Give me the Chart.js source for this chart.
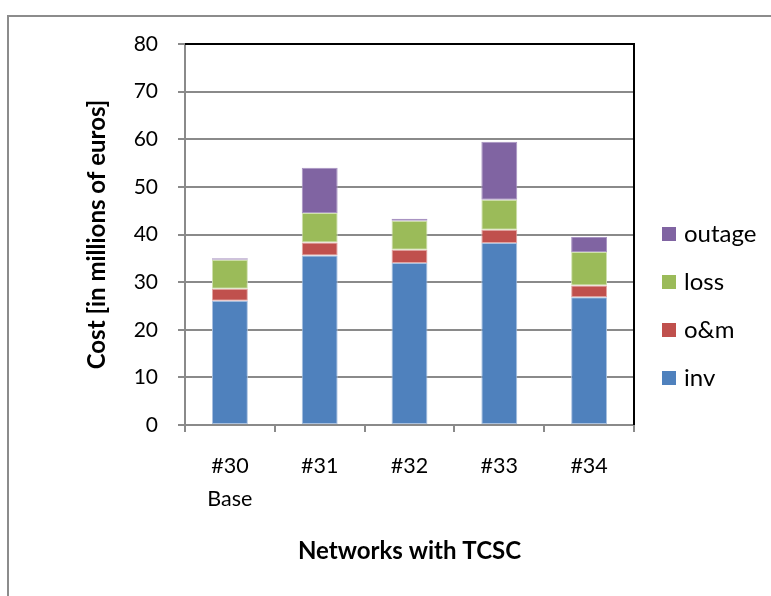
<!DOCTYPE html>
<html>
<head>
<meta charset="utf-8">
<script src="https://cdn.jsdelivr.net/npm/chart.js@4.4.1/dist/chart.umd.min.js"></script>
<style>
  html, body { margin: 0; padding: 0; background: #ffffff; }
  #wrap { position: relative; width: 771px; height: 596px; }
  #frame { position: absolute; left: 7px; top: 15px; right: -4px; bottom: -4px;
           border-left: 2px solid #8c8c8c; border-top: 2px solid #8c8c8c; pointer-events: none; }
  canvas { position: absolute; left: 0; top: 0; }
</style>
</head>
<body>
<div id="wrap">
  <canvas id="chart" width="771" height="596"></canvas>
  <div id="frame"></div>
</div>
<script>
// Networks compared
const categories = [['#30', 'Base'], '#31', '#32', '#33', '#34'];

// Cost components, in millions of euros
const inv    = [26.1, 35.6, 34.0, 38.2, 26.8];
const om     = [2.5, 2.7, 2.8, 2.8, 2.5];
const loss   = [6.1, 6.2, 6.1, 6.3, 7.0];
const outage = [0.3, 9.5, 0.4, 12.2, 3.2];

const yTicks = [0, 10, 20, 30, 40, 50, 60, 70, 80];

const FONT = 'Lato, "Liberation Sans", sans-serif';
const GRID = '#8a8a8a';

// Legend drawn at the right, top entry is the last stacked series
const sideLegend = {
  id: 'sideLegend',
  afterDraw(chart) {
    const ctx = chart.ctx;
    const area = chart.chartArea;
    const sets = chart.data.datasets.slice().reverse();
    const x = area.right + 28;
    let y = area.top + 190;
    ctx.save();
    ctx.font = '24px ' + FONT;
    ctx.textBaseline = 'middle';
    ctx.textAlign = 'left';
    sets.forEach(ds => {
      ctx.fillStyle = ds.backgroundColor;
      ctx.fillRect(x, y - 7, 14, 14);
      ctx.fillStyle = '#000000';
      ctx.fillText(ds.label, x + 22, y);
      y += 48;
    });
    ctx.restore();
  }
};

// Black border on the top and right side of the plot area
const plotBorder = {
  id: 'plotBorder',
  afterDatasetsDraw(chart) {
    const ctx = chart.ctx;
    const a = chart.chartArea;
    ctx.save();
    ctx.strokeStyle = '#000000';
    ctx.lineWidth = 2;
    ctx.beginPath();
    ctx.moveTo(a.left, a.top);
    ctx.lineTo(a.right, a.top);
    ctx.lineTo(a.right, a.bottom);
    ctx.stroke();
    ctx.restore();
  }
};

function series(label, data, color, edge) {
  return {
    label, data,
    backgroundColor: color,
    borderColor: edge,
    borderWidth: 1,
    borderSkipped: false,
    barPercentage: 0.4,
    categoryPercentage: 1.0
  };
}

new Chart(document.getElementById('chart'), {
  type: 'bar',
  data: {
    labels: categories,
    datasets: [
      series('inv', inv, '#4f81bd', '#a9c1e0'),
      series('o&m', om, '#c0504d', '#e3a5a3'),
      series('loss', loss, '#9bbb59', '#cfe0ae'),
      series('outage', outage, '#8064a2', '#a893c2')
    ]
  },
  options: {
    responsive: false,
    animation: false,
    layout: { padding: { top: 44, right: 137, left: 0, bottom: 0 } },
    plugins: {
      legend: { display: false },
      tooltip: { enabled: false }
    },
    scales: {
      x: {
        stacked: true,
        afterFit(scale) { scale.height = 171; },
        grid: {
          offset: true,
          drawOnChartArea: false,
          drawTicks: true,
          tickLength: 7,
          color: GRID,
          lineWidth: 2
        },
        border: { color: GRID, width: 2 },
        ticks: {
          color: '#000000',
          font: { family: FONT, size: 21.5, lineHeight: 1.53 },
          padding: 18,
          maxRotation: 0
        },
        title: {
          display: true,
          text: 'Networks with TCSC',
          color: '#000000',
          font: { family: FONT, size: 24, weight: 'bold', lineHeight: 1.2 },
          padding: { top: 0, bottom: 30 }
        }
      },
      y: {
        stacked: true,
        min: 0,
        max: 80,
        afterFit(scale) { scale.width = 185; },
        afterBuildTicks(scale) { scale.ticks = yTicks.map(v => ({ value: v })); },
        grid: {
          color: GRID,
          lineWidth: 2,
          drawTicks: true,
          tickLength: 7,
        },
        border: { color: GRID, width: 2 },
        ticks: {
          color: '#000000',
          font: { family: FONT, size: 21 },
          padding: 20
        },
        title: {
          display: true,
          text: 'Cost [in millions of euros]',
          color: '#000000',
          font: { family: FONT, size: 24, weight: 'bold', lineHeight: 1.2 },
          padding: { top: 83, bottom: 0 }
        }
      }
    }
  },
  plugins: [sideLegend, plotBorder]
});
</script>
</body>
</html>
